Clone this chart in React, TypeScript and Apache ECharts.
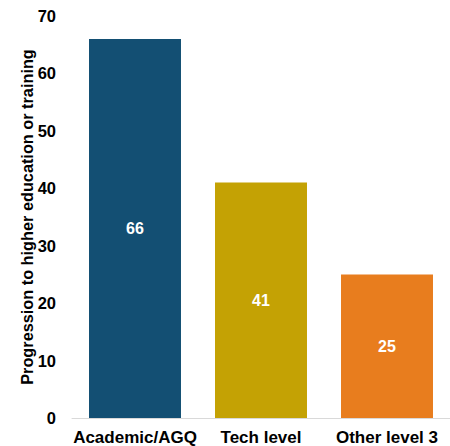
import React, { useEffect, useRef } from "react";
import * as echarts from "echarts";

const categories = ["Academic/AGQ", "Tech level", "Other level 3"];
const values = [66, 41, 25];
const colors = ["#134F73", "#C4A204", "#E87D1E"];
const yTicks = { min: 0, max: 70, interval: 10 };

const FONT = "Liberation Sans, Arial, sans-serif";

export default function App() {
  const ref = useRef<HTMLDivElement>(null);
  useEffect(() => {
    const chart = echarts.init(ref.current!, null, { renderer: "svg" });
    chart.setOption({
      animation: false,
      grid: { left: 72, right: 0, top: 16, bottom: 28, containLabel: false },
      xAxis: {
        type: "category",
        data: categories,
        axisLine: { lineStyle: { color: "#d9d9d9", width: 1 } },
        axisTick: { show: false },
        axisLabel: {
          interval: 0,
          color: "#000",
          fontWeight: "bold",
          fontSize: 17,
          fontFamily: FONT,
          margin: 11,
        },
      },
      yAxis: {
        type: "value",
        min: yTicks.min,
        max: yTicks.max,
        interval: yTicks.interval,
        splitLine: { show: false },
        axisLine: { show: false },
        axisTick: { show: false },
        axisLabel: {
          color: "#000",
          fontWeight: "bold",
          fontSize: 16.5,
          fontFamily: FONT,
          margin: 16,
        },
        name: "Progression to higher education or training",
        nameLocation: "middle",
        nameGap: 37,
        nameMoveOverlap: false,
        nameTextStyle: {
          color: "#000",
          fontWeight: "bold",
          fontSize: 16.3,
          fontFamily: FONT,
        },
      },
      series: [
        {
          type: "bar",
          data: values.map((v, i) => ({ value: v, itemStyle: { color: colors[i] } })),
          barCategoryGap: "27%",
          label: {
            show: true,
            position: "inside",
            color: "#fff",
            fontWeight: "bold",
            fontSize: 16,
            fontFamily: FONT,
          },
        },
      ],
    });
    return () => chart.dispose();
  }, []);
  return <div ref={ref} style={{ width: 450, height: 446, position: "absolute", left: 0, top: 0 }} />;
}
